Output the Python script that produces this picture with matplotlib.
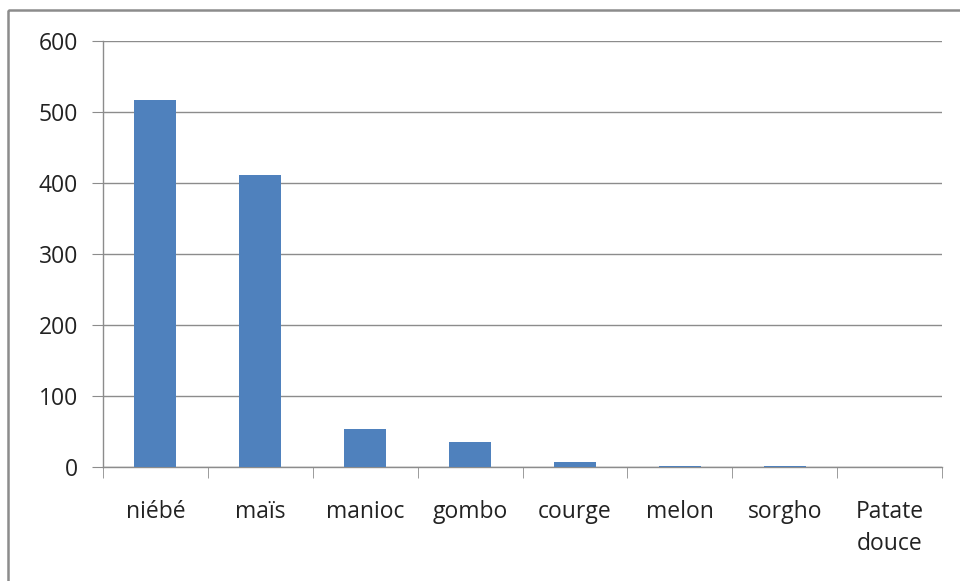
import matplotlib
matplotlib.use("Agg")
import matplotlib.pyplot as plt
from matplotlib.patches import Rectangle

categories = ["niébé", "maïs", "manioc", "gombo", "courge", "melon", "sorgho", "Patate\ndouce"]
values = [517, 411, 54, 35, 7, 2, 2, 0]
yticks = [0, 100, 200, 300, 400, 500, 600]

W, H = 960, 581
fig = plt.figure(figsize=(W / 100, H / 100), dpi=100)
plt.rcParams['font.family'] = ['Open Sans', 'DejaVu Sans']

# outer chart frame
fig.patches.append(Rectangle((8 / W, 1 - 10 / H), 2, -2, transform=fig.transFigure,
                             fill=False, edgecolor='#8c8c8c', linewidth=1.8))

ax = fig.add_axes([103 / W, 1 - 467 / H, (942 - 103) / W, (467 - 41) / H])
x = list(range(len(categories)))
ax.bar(x, values, width=0.4, color='#4F81BD', zorder=3)

ax.set_xlim(-0.5, len(categories) - 0.5)
ax.set_ylim(0, 600)
ax.set_yticks(yticks)
ax.set_yticklabels([str(v) for v in yticks])
ax.set_xticks(x)
ax.set_xticklabels(categories, linespacing=1.4)
ax.set_xticks([i - 0.5 for i in range(len(categories) + 1)], minor=True)

ax.yaxis.grid(True, color='#8c8c8c', linewidth=1.0, zorder=0)
for s in ['top', 'right']:
    ax.spines[s].set_visible(False)
for s in ['left', 'bottom']:
    ax.spines[s].set_color('#8c8c8c')
    ax.spines[s].set_linewidth(1.0)

ax.tick_params(axis='y', length=8, color='#8c8c8c', pad=10, labelsize=16.5, labelcolor='#222222')
ax.tick_params(axis='x', which='major', length=0, pad=24, labelsize=16.5, labelcolor='#222222')
ax.tick_params(axis='x', which='minor', length=8, color='#8c8c8c')

fig.savefig("out.png", dpi=100)
